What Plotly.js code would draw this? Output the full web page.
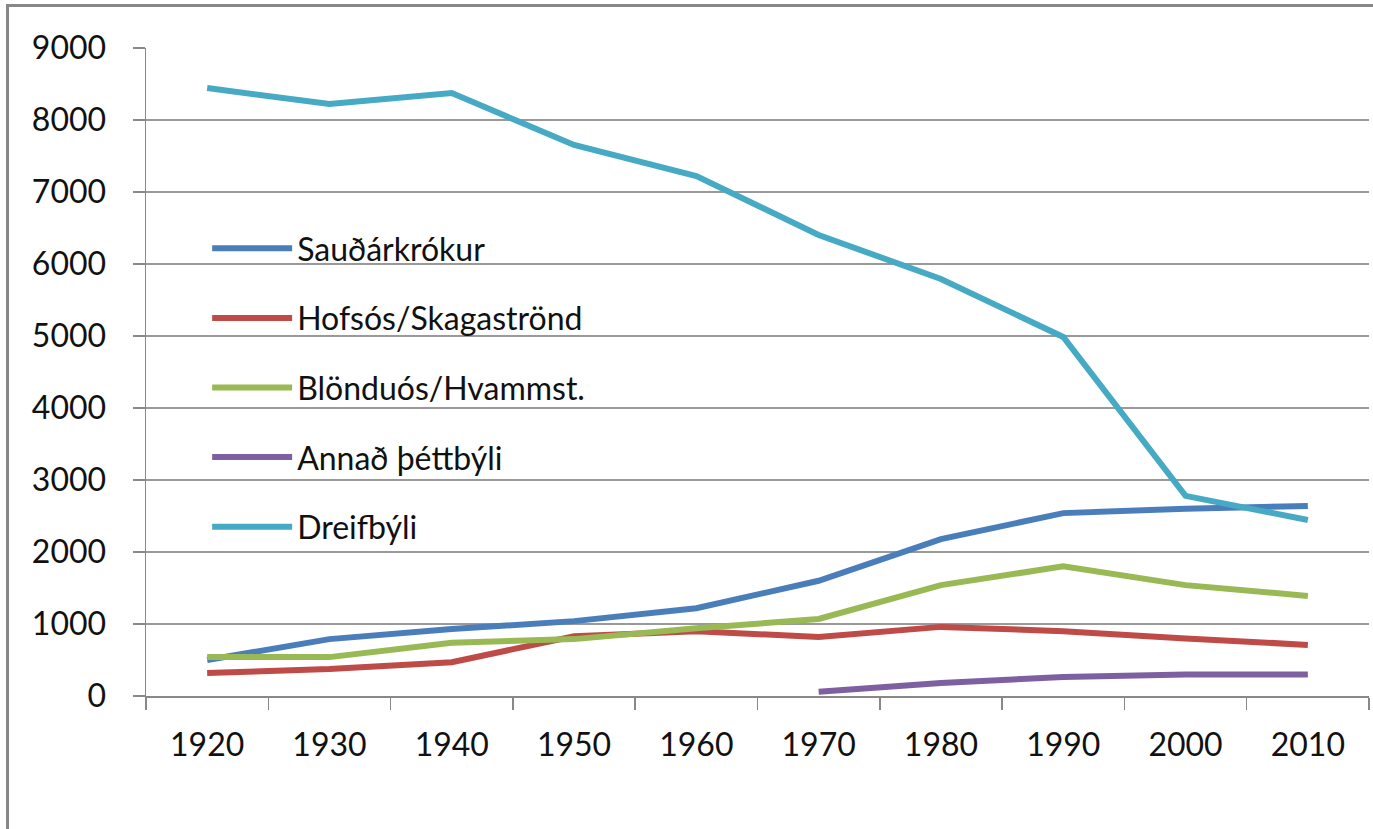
<!DOCTYPE html>
<html>
<head>
<meta charset="utf-8">
<script src="https://cdn.plot.ly/plotly-3.0.1.min.js"></script>
<style>
  body { margin: 0; background: #fff; }
  #chart { position: absolute; left: 0; top: 0; width: 1373px; height: 829px; }
  #frame { position: absolute; left: 6px; top: 4px; width: 1367px; height: 825px;
           border-left: 3px solid #888; border-top: 3px solid #888; pointer-events: none; }
</style>
</head>
<body>
<div id="chart"></div>
<div id="frame"></div>
<script>
// ár
const years = ['1920', '1930', '1940', '1950', '1960', '1970', '1980', '1990', '2000', '2010'];

// íbúafjöldi eftir svæðum
const saudarkrokur = [500, 790, 930, 1040, 1220, 1600, 2180, 2540, 2600, 2640];
const hofsos = [320, 375, 470, 830, 900, 820, 960, 900, 800, 710];
const blonduos = [540, 540, 740, 790, 940, 1070, 1540, 1800, 1540, 1390];
const annad = [null, null, null, null, null, 60, 180, 265, 300, 300];
const dreifbyli = [8444, 8222, 8375, 7653, 7222, 6403, 5792, 4986, 2780, 2444];

const names = ['Sauðárkrókur', 'Hofsós/Skagaströnd', 'Blönduós/Hvammst.', 'Annað þéttbýli', 'Dreifbýli'];
const colors = ['#4a7ebb', '#be4b48', '#98b954', '#7d60a0', '#46aac5'];
const series = [saudarkrokur, hofsos, blonduos, annad, dreifbyli];

const data = series.map((vals, i) => ({
    x: years,
    y: vals,
    name: names[i],
    legendgroup: 'g' + i,
    type: 'scatter',
    mode: 'lines',
    line: { color: colors[i], width: 6 }
}));

const layout = {
    width: 1373,
    height: 829,
    margin: { l: 146, r: 4, t: 48, b: 133 },
    paper_bgcolor: '#fff',
    plot_bgcolor: '#fff',
    font: { family: 'Lato, "Open Sans", sans-serif', size: 32, color: '#111' },
    showlegend: true,
    legend: {
        x: 0.05, xanchor: 'left',
        y: 0.733, yanchor: 'top',
        bgcolor: 'rgba(0,0,0,0)',
        traceorder: 'grouped',
        tracegroupgap: 25,
        itemwidth: 80,
        font: { size: 32 }
    },
    xaxis: {
        type: 'category',
        range: [-0.5, 9.5],
        tickson: 'boundaries',
        ticks: 'outside',
        ticklen: 12,
        tickcolor: '#888',
        tickwidth: 1.5,
        showline: true,
        linecolor: '#888',
        linewidth: 1.5,
        showgrid: false,
        ticklabelstandoff: 20
    },
    yaxis: {
        range: [0, 9000],
        dtick: 1000,
        ticks: 'outside',
        ticklen: 12,
        tickcolor: '#888',
        tickwidth: 1.5,
        showline: true,
        linecolor: '#888',
        linewidth: 1.5,
        showgrid: true,
        gridcolor: '#999',
        gridwidth: 1.5,
        zeroline: false,
        ticklabelstandoff: 20
    }
};

Plotly.newPlot('chart', data, layout, { displayModeBar: false, staticPlot: true });
</script>
</body>
</html>
